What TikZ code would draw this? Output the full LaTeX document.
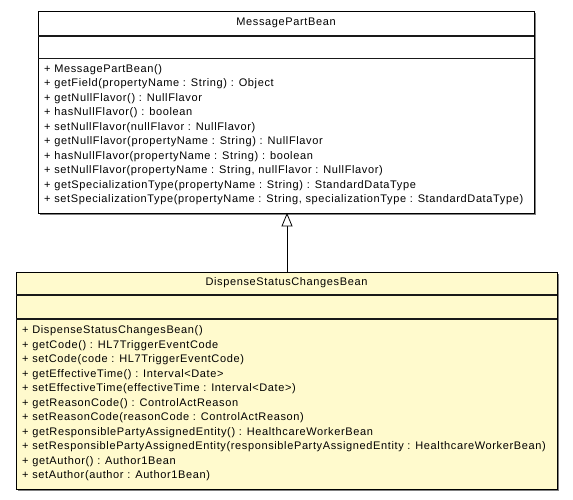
\documentclass[tikz,border=0pt]{standalone}
\usepackage{fontspec}
\setmainfont{Liberation Sans}[LetterSpace=5.7]
\definecolor{classfill}{HTML}{FFFACD}
\definecolor{shadowgray}{HTML}{808080}
\begin{document}
\begin{tikzpicture}[x=1pt,y=-1pt,
  classbox/.style={draw=black, line width=0.9pt, minimum width=#1, inner sep=0pt, anchor=north west},
  sepline/.style={line width=1.3pt, draw=black!90},
  titletext/.style={font=\fontsize{11}{12}\selectfont, inner sep=0pt},
  methods/.style={font=\fontsize{11}{14.5}\selectfont, align=left, anchor=north west, inner sep=0pt},
  genarrow/.style={draw=black, line width=0.8pt}
]
\useasboundingbox (0,0) rectangle (573,499);
% shadows
\fill[shadowgray] (39.5,12.5) rectangle (535.5,214.5);
\fill[shadowgray] (17.5,273.5) rectangle (558.5,490.5);
% top class
\node[classbox=496pt, minimum height=202pt, fill=white] (top) at (38,11) {};
\draw[sepline] (38,36) -- (534,36);
\draw[sepline] (38,58.5) -- (534,58.5);
\node[titletext] (toptitle) at (286,23) {MessagePartBean};
\node[methods] (topmethods) at (44,64) {+ MessagePartBean()\\
+ getField(propertyName : String) : Object\\
+ getNullFlavor() : NullFlavor\\
+ hasNullFlavor() : boolean\\
+ setNullFlavor(nullFlavor : NullFlavor)\\
+ getNullFlavor(propertyName : String) : NullFlavor\\
+ hasNullFlavor(propertyName : String) : boolean\\
+ setNullFlavor(propertyName : String, nullFlavor : NullFlavor)\\
+ getSpecializationType(propertyName : String) : StandardDataType\\
+ setSpecializationType(propertyName : String, specializationType : StandardDataType)};
% bottom class
\node[classbox=541pt, minimum height=217pt, fill=classfill] (bot) at (16,272) {};
\draw[sepline] (16,295) -- (557,295);
\draw[sepline] (16,319) -- (557,319);
\node[titletext] (bottitle) at (286.5,283) {DispenseStatusChangesBean};
\node[methods] (botmethods) at (22,325.5) {+ DispenseStatusChangesBean()\\
+ getCode() : HL7TriggerEventCode\\
+ setCode(code : HL7TriggerEventCode)\\
+ getEffectiveTime() : Interval<Date>\\
+ setEffectiveTime(effectiveTime : Interval<Date>)\\
+ getReasonCode() : ControlActReason\\
+ setReasonCode(reasonCode : ControlActReason)\\
+ getResponsiblePartyAssignedEntity() : HealthcareWorkerBean\\
+ setResponsiblePartyAssignedEntity(responsiblePartyAssignedEntity : HealthcareWorkerBean)\\
+ getAuthor() : Author1Bean\\
+ setAuthor(author : Author1Bean)};
% generalization
\coordinate (tip) at (top.south -| 287,0);
\coordinate (base) at (287,226);
\draw[genarrow] (bot.north -| tip) -- (base);
\draw[genarrow, fill=white] (tip) -- (282,226) -- (292,226) -- cycle;
\end{tikzpicture}
\end{document}
